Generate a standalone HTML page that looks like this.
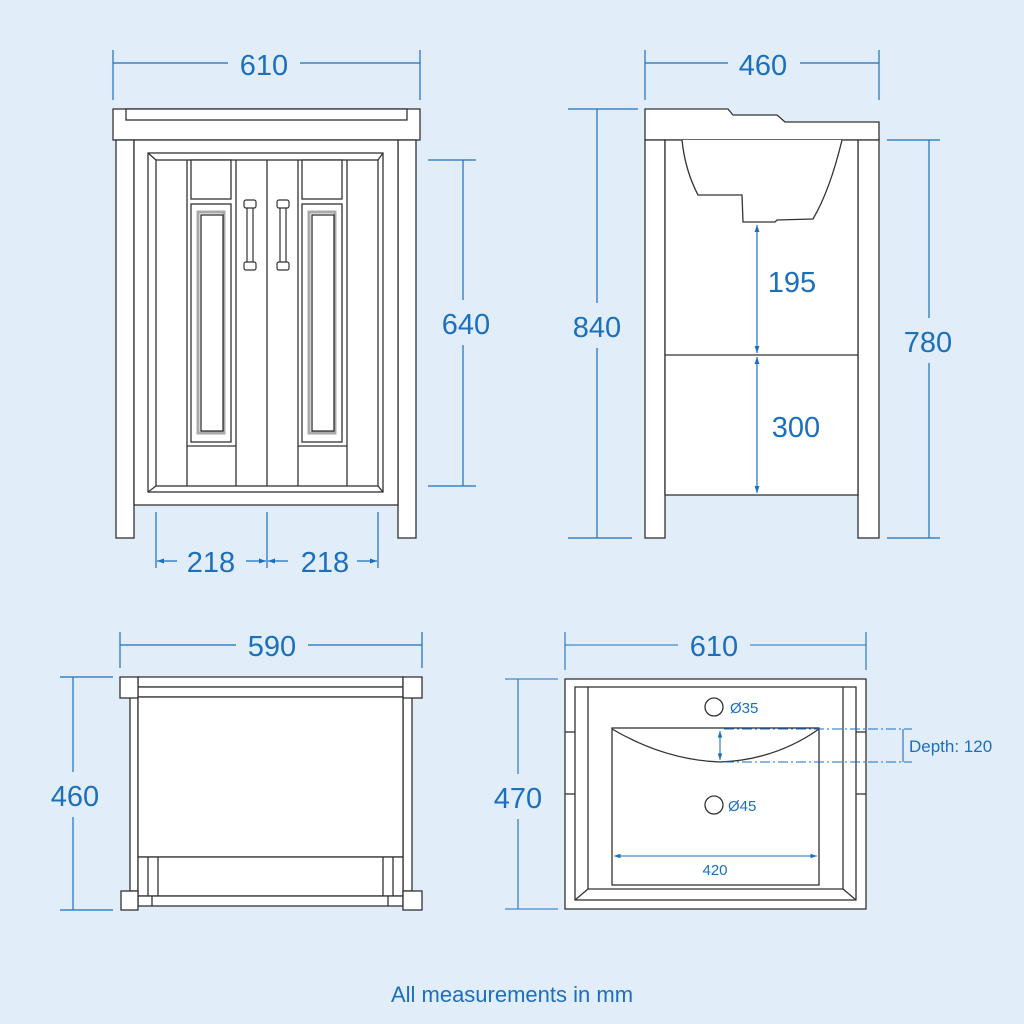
<!DOCTYPE html>
<html><head><meta charset="utf-8"><style>
html,body{margin:0;padding:0;background:#e1edf9}
svg{display:block}
text{font-family:"Liberation Sans",sans-serif;fill:#1b6fbd}
</style></head><body>
<svg width="1024" height="1024" viewBox="0 0 1024 1024" xmlns="http://www.w3.org/2000/svg">
<defs>
<marker id="a" viewBox="0 0 10 10" refX="10" refY="5" markerWidth="6" markerHeight="6" orient="auto-start-reverse"><path d="M0,1.5L10,5L0,8.5z" fill="#1b6fbd"/></marker>
</defs>
<rect width="1024" height="1024" fill="#e1edf9"/>

<!-- ===== FRONT VIEW ===== -->
<g fill="#fff" stroke="#333" stroke-width="1.3">
<rect x="113" y="109" width="307" height="31"/>
<rect x="126" y="109" width="281" height="11"/>
<rect x="116" y="140" width="18" height="398"/>
<rect x="398" y="140" width="18" height="398"/>
<rect x="134" y="140" width="264" height="365"/>
<rect x="148" y="153" width="235" height="339"/>
<rect x="156" y="160" width="222" height="326"/>
<line x1="148" y1="153" x2="156" y2="160"/><line x1="383" y1="153" x2="378" y2="160"/>
<line x1="148" y1="492" x2="156" y2="486"/><line x1="383" y1="492" x2="378" y2="486"/>
<line x1="187" y1="160" x2="187" y2="486"/>
<line x1="236" y1="160" x2="236" y2="486"/>
<line x1="267" y1="160" x2="267" y2="486"/>
<line x1="298" y1="160" x2="298" y2="486"/>
<line x1="347" y1="160" x2="347" y2="486"/>
<rect x="191" y="160" width="40" height="39"/>
<rect x="302" y="160" width="40" height="39"/>
<rect x="191" y="204" width="40" height="238"/>
<rect x="302" y="204" width="40" height="238"/>
<line x1="187" y1="446" x2="236" y2="446"/>
<line x1="298" y1="446" x2="347" y2="446"/>
</g>
<g fill="none">
<rect x="198" y="212" width="26" height="221" stroke="#aaa" stroke-width="3"/>
<rect x="201" y="215" width="22" height="216" stroke="#222" stroke-width="1.2"/>
<rect x="309" y="212" width="26" height="221" stroke="#aaa" stroke-width="3"/>
<rect x="312" y="215" width="22" height="216" stroke="#222" stroke-width="1.2"/>
</g>
<g fill="#fff" stroke="#333" stroke-width="1.2">
<rect x="247" y="207" width="6" height="56"/>
<rect x="244" y="200" width="12" height="8" rx="2"/>
<rect x="244" y="262" width="12" height="8" rx="2"/>
<rect x="280" y="207" width="6" height="56"/>
<rect x="277" y="200" width="12" height="8" rx="2"/>
<rect x="277" y="262" width="12" height="8" rx="2"/>
</g>

<!-- front dims -->
<g stroke="#1b6fbd" stroke-width="1.2" fill="none">
<line x1="113" y1="50" x2="113" y2="100"/><line x1="420" y1="50" x2="420" y2="100"/>
<line x1="113" y1="63" x2="228" y2="63"/><line x1="300" y1="63" x2="420" y2="63"/>
<line x1="428" y1="160" x2="476" y2="160"/><line x1="428" y1="486" x2="476" y2="486"/>
<line x1="463" y1="160" x2="463" y2="300"/><line x1="463" y1="345" x2="463" y2="486"/>
<line x1="156" y1="512" x2="156" y2="568"/><line x1="267" y1="512" x2="267" y2="568"/><line x1="378" y1="512" x2="378" y2="568"/>
<line x1="177" y1="561" x2="157" y2="561" marker-end="url(#a)"/>
<line x1="246" y1="561" x2="266" y2="561" marker-end="url(#a)"/>
<line x1="288" y1="561" x2="268" y2="561" marker-end="url(#a)"/>
<line x1="357" y1="561" x2="377" y2="561" marker-end="url(#a)"/>
</g>
<g font-size="29" text-anchor="middle">
<text x="264" y="75">610</text>
<text x="466" y="334">640</text>
<text x="211" y="572">218</text>
<text x="325" y="572">218</text>
</g>

<!-- ===== SIDE VIEW ===== -->
<g fill="#fff" stroke="#333" stroke-width="1.3">
<path d="M645,109 L728,109 L733,115 L777,115 L785,122 L879,122 L879,140 L645,140 Z"/>
<rect x="645" y="140" width="20" height="398"/>
<rect x="858" y="140" width="21" height="398"/>
<rect x="665" y="140" width="193" height="355"/>
<line x1="665" y1="355" x2="858" y2="355"/>
<path d="M682,140 Q685,170 698,195 L742,195 L743,222 L775,222 L777,220 L813,219 Q830,190 842,140" fill="#fff"/>
</g>
<g stroke="#1b6fbd" stroke-width="1.2" fill="none">
<line x1="757" y1="225" x2="757" y2="353" marker-start="url(#a)" marker-end="url(#a)"/>
<line x1="757" y1="357" x2="757" y2="493" marker-start="url(#a)" marker-end="url(#a)"/>
<line x1="645" y1="50" x2="645" y2="100"/><line x1="879" y1="50" x2="879" y2="100"/>
<line x1="645" y1="63" x2="728" y2="63"/><line x1="800" y1="63" x2="879" y2="63"/>
<line x1="568" y1="109" x2="638" y2="109"/><line x1="568" y1="538" x2="632" y2="538"/>
<line x1="597" y1="109" x2="597" y2="303"/><line x1="597" y1="348" x2="597" y2="538"/>
<line x1="887" y1="140" x2="940" y2="140"/><line x1="887" y1="538" x2="940" y2="538"/>
<line x1="929" y1="140" x2="929" y2="318"/><line x1="929" y1="363" x2="929" y2="538"/>
</g>
<g font-size="29" text-anchor="middle">
<text x="763" y="75">460</text>
<text x="792" y="292">195</text>
<text x="796" y="437">300</text>
<text x="597" y="337">840</text>
<text x="928" y="352">780</text>
</g>

<!-- ===== TOP/BACK VIEW LEFT ===== -->
<g fill="#fff" stroke="#333" stroke-width="1.3">
<rect x="130" y="697" width="8" height="194"/>
<rect x="403" y="697" width="9" height="194"/>
<rect x="138" y="677" width="265" height="10"/>
<rect x="138" y="687" width="265" height="10"/>
<rect x="120" y="677" width="18" height="21"/>
<rect x="403" y="677" width="19" height="21"/>
<rect x="138" y="697" width="265" height="160"/>
<rect x="138" y="857" width="265" height="39"/>
<line x1="148" y1="857" x2="148" y2="896"/><line x1="158" y1="857" x2="158" y2="896"/>
<line x1="383" y1="857" x2="383" y2="896"/><line x1="393" y1="857" x2="393" y2="896"/>
<rect x="138" y="896" width="265" height="10"/>
<line x1="152" y1="896" x2="152" y2="906"/><line x1="388" y1="896" x2="388" y2="906"/>
<rect x="121" y="891" width="17" height="19"/>
<rect x="403" y="891" width="19" height="19"/>
</g>
<g stroke="#1b6fbd" stroke-width="1.2" fill="none">
<line x1="120" y1="632" x2="120" y2="668"/><line x1="422" y1="632" x2="422" y2="668"/>
<line x1="120" y1="645" x2="236" y2="645"/><line x1="308" y1="645" x2="422" y2="645"/>
<line x1="60" y1="677" x2="113" y2="677"/><line x1="60" y1="910" x2="113" y2="910"/>
<line x1="73" y1="677" x2="73" y2="772"/><line x1="73" y1="817" x2="73" y2="910"/>
</g>
<g font-size="29" text-anchor="middle">
<text x="272" y="656">590</text>
<text x="75" y="806">460</text>
</g>

<!-- ===== TOP VIEW RIGHT (sink) ===== -->
<g fill="#fff" stroke="#333" stroke-width="1.3">
<rect x="565" y="679" width="301" height="230"/>
<rect x="575" y="687" width="281" height="213"/>
<line x1="588" y1="687" x2="588" y2="889"/><line x1="843" y1="687" x2="843" y2="889"/>
<line x1="588" y1="889" x2="843" y2="889"/>
<line x1="575" y1="900" x2="588" y2="889"/><line x1="856" y1="900" x2="843" y2="889"/>
<line x1="565" y1="732" x2="575" y2="732"/><line x1="565" y1="794" x2="575" y2="794"/>
<line x1="856" y1="732" x2="866" y2="732"/><line x1="856" y1="794" x2="866" y2="794"/>
<rect x="612" y="728" width="207" height="157"/>
<path d="M612,729 Q665,760 720,762 Q775,760 819,729" fill="none"/>
<circle cx="714" cy="707" r="9"/>
<circle cx="714" cy="805" r="9"/>
</g>
<g stroke="#1b6fbd" stroke-width="1.1" fill="none">
<line x1="720" y1="731" x2="720" y2="760" marker-start="url(#a)" marker-end="url(#a)"/>
<line x1="724" y1="729" x2="912" y2="729" stroke-dasharray="10,3,2,3"/>
<line x1="724" y1="762" x2="912" y2="762" stroke-dasharray="10,3,2,3"/>
<line x1="903" y1="729" x2="903" y2="762"/>
<line x1="614" y1="856" x2="817" y2="856" marker-start="url(#a)" marker-end="url(#a)"/>
<line x1="565" y1="632" x2="565" y2="670"/><line x1="866" y1="632" x2="866" y2="670"/>
<line x1="565" y1="645" x2="678" y2="645"/><line x1="750" y1="645" x2="866" y2="645"/>
<line x1="505" y1="679" x2="558" y2="679"/><line x1="505" y1="909" x2="558" y2="909"/>
<line x1="518" y1="679" x2="518" y2="774"/><line x1="518" y1="819" x2="518" y2="909"/>
</g>
<g text-anchor="middle">
<text x="714" y="656" font-size="29">610</text>
<text x="518" y="808" font-size="29">470</text>
<text x="715" y="875" font-size="15">420</text>
</g>
<text x="730" y="713" font-size="15">Ø35</text>
<text x="728" y="811" font-size="15">Ø45</text>
<text x="909" y="752" font-size="17">Depth: 120</text>

<text x="512" y="1002" font-size="22" text-anchor="middle">All measurements in mm</text>
</svg>
</body></html>
